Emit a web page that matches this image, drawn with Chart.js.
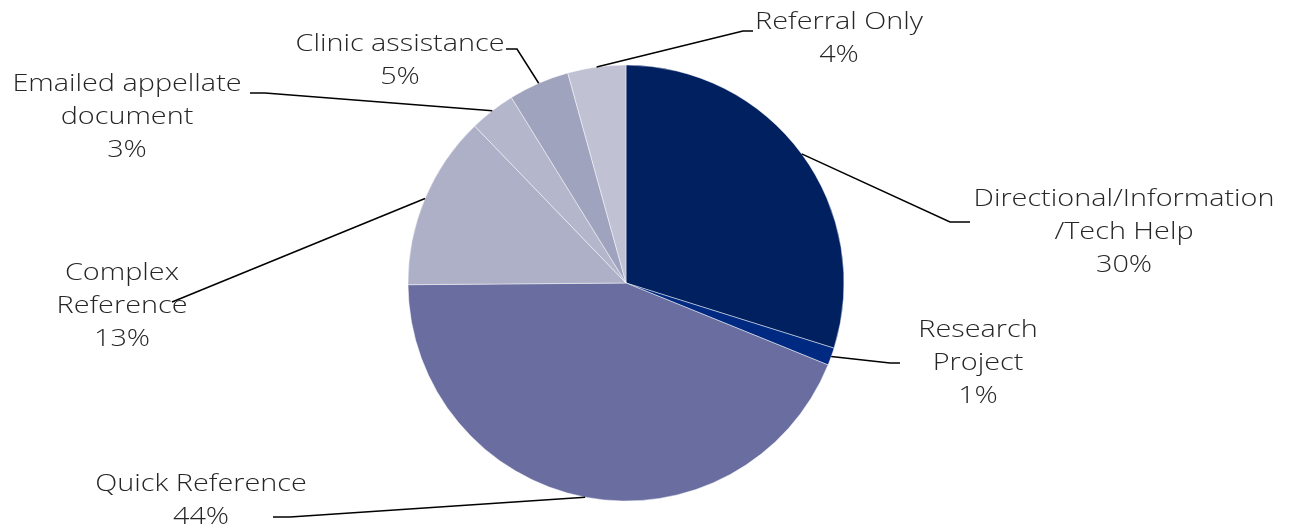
<!DOCTYPE html>
<html>
<head>
<meta charset="utf-8">
<script src="https://cdn.jsdelivr.net/npm/chart.js@4/dist/chart.umd.min.js"></script>
<style>
  html, body { margin: 0; padding: 0; background: #fff; }
  #wrap { width: 1289px; height: 527px; position: relative; }
</style>
</head>
<body>
<div id="wrap"><canvas id="pie"></canvas></div>
<script>
// Chart data
var categories = ['Directional/Information/Tech Help', 'Research Project', 'Quick Reference',
    'Complex Reference', 'Emailed appellate document', 'Clinic assistance', 'Referral Only'];
var values = [29.8, 1.3, 43.7, 12.9, 3.4, 4.5, 4.3];
var labelLines = [
    ['Directional/Information', '/Tech Help'],
    ['Research', 'Project'],
    ['Quick Reference'],
    ['Complex', 'Reference'],
    ['Emailed appellate', 'document'],
    ['Clinic assistance'],
    ['Referral Only']
];

// Styles
var colors = ['#002060', '#002A82', '#696D9F', '#AEB0C8', '#B4B6CC', '#A0A3BE', '#C0C2D4'];

// Label placement: text centre x, first line y, leader elbow and end
var labelLayout = [
    { x: 1124, y: 199, elbow: [950, 222], end: [970, 222] },
    { x: 978, y: 330, elbow: [890, 363], end: [900, 363] },
    { x: 201, y: 484, elbow: [290, 517], end: [273, 517] },
    { x: 122, y: 273, elbow: null, end: [172, 302] },
    { x: 127, y: 84, elbow: [265, 93], end: [250, 93] },
    { x: 400, y: 44, elbow: [517, 49], end: [506, 49] },
    { x: 839, y: 22, elbow: [743, 31], end: [753, 31] }
];

// Century Gothic is not available, so a light sans is widened a bit
var FONT = '300 24px "Open Sans", "DejaVu Sans", sans-serif';
var STRETCH = 1.2;
var LINE_H = 33;

var total = values.reduce(function(a, b) { return a + b; }, 0);

var leaderLabels = {
    id: 'leaderLabels',
    afterDatasetsDraw: function(chart) {
        var ctx = chart.ctx;
        var arcs = chart.getDatasetMeta(0).data;
        ctx.save();
        arcs.forEach(function(arc, i) {
            var p = arc.getProps(['x', 'y', 'startAngle', 'endAngle', 'outerRadius'], true);
            var mid = (p.startAngle + p.endAngle) / 2;
            var ax = p.x + Math.cos(mid) * p.outerRadius;
            var ay = p.y + Math.sin(mid) * p.outerRadius;
            var lay = labelLayout[i];

            ctx.strokeStyle = '#000';
            ctx.lineWidth = 1.5;
            ctx.beginPath();
            ctx.moveTo(ax, ay);
            if (lay.elbow) {
                ctx.lineTo(lay.elbow[0], lay.elbow[1]);
            }
            ctx.lineTo(lay.end[0], lay.end[1]);
            ctx.stroke();

            var lines = labelLines[i].concat([Math.round(values[i] / total * 100) + '%']);
            ctx.font = FONT;
            ctx.fillStyle = '#262626';
            ctx.textAlign = 'center';
            ctx.textBaseline = 'middle';
            lines.forEach(function(t, j) {
                ctx.save();
                ctx.translate(lay.x, lay.y + j * LINE_H);
                ctx.scale(STRETCH, 1);
                ctx.fillText(t, 0, 0);
                ctx.restore();
            });
        });
        ctx.restore();
    }
};

new Chart(document.getElementById('pie'), {
    type: 'pie',
    data: {
        labels: categories,
        datasets: [{
            data: values,
            backgroundColor: colors,
            borderColor: 'rgba(255, 255, 255, 0.45)',
            borderWidth: 1,
            hoverOffset: 0
        }]
    },
    options: {
        responsive: true,
        maintainAspectRatio: false,
        animation: false,
        radius: 218,
        layout: {
            padding: { left: 300, right: 337, top: 65, bottom: 26 }
        },
        plugins: {
            legend: { display: false },
            tooltip: { enabled: false }
        }
    },
    plugins: [leaderLabels]
});
</script>
</body>
</html>
